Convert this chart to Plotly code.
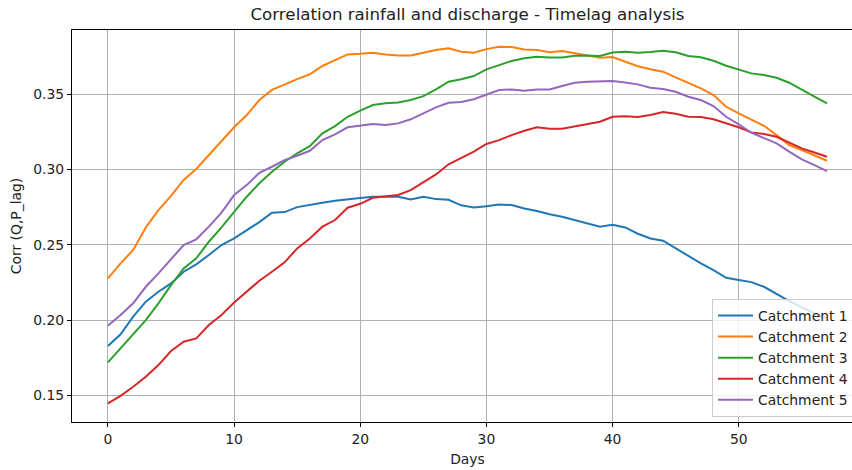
import plotly.graph_objects as go

days = list(range(58))

catchment_1 = [0.1827, 0.1905, 0.2022, 0.2122, 0.2188, 0.2243, 0.2321, 0.2370, 0.2432, 0.2498,
               0.2542, 0.2598, 0.2650, 0.2713, 0.2717, 0.2750, 0.2762, 0.2779, 0.2792, 0.2799,
               0.2810, 0.2819, 0.2819, 0.2819, 0.2801, 0.2819, 0.2803, 0.2799, 0.2762, 0.2748,
               0.2755, 0.2768, 0.2764, 0.2741, 0.2724, 0.2702, 0.2686, 0.2664, 0.2637, 0.2620,
               0.2632, 0.2615, 0.2573, 0.2542, 0.2527, 0.2476, 0.2425, 0.2376, 0.2332, 0.2281,
               0.2266, 0.2252, 0.2221, 0.2173, 0.2126, 0.2084, 0.2044, 0.2010]

catchment_2 = [0.2277, 0.2376, 0.2465, 0.2615, 0.2730, 0.2825, 0.2930, 0.3003, 0.3096, 0.3191,
               0.3280, 0.3361, 0.3461, 0.3528, 0.3565, 0.3600, 0.3632, 0.3687, 0.3726, 0.3764,
               0.3768, 0.3775, 0.3764, 0.3757, 0.3757, 0.3775, 0.3793, 0.3804, 0.3782, 0.3775,
               0.3799, 0.3815, 0.3813, 0.3797, 0.3793, 0.3778, 0.3786, 0.3771, 0.3755, 0.3742,
               0.3746, 0.3717, 0.3685, 0.3665, 0.3649, 0.3611, 0.3576, 0.3538, 0.3494, 0.3416,
               0.3372, 0.3333, 0.3290, 0.3228, 0.3162, 0.3129, 0.3096, 0.3058]

catchment_3 = [0.1719, 0.1812, 0.1900, 0.2000, 0.2111, 0.2232, 0.2343, 0.2410, 0.2520, 0.2615,
               0.2719, 0.2819, 0.2908, 0.2985, 0.3051, 0.3107, 0.3155, 0.3240, 0.3288, 0.3350,
               0.3390, 0.3428, 0.3439, 0.3445, 0.3461, 0.3487, 0.3532, 0.3583, 0.3599, 0.3620,
               0.3665, 0.3693, 0.3720, 0.3738, 0.3749, 0.3744, 0.3744, 0.3755, 0.3757, 0.3753,
               0.3777, 0.3782, 0.3775, 0.3780, 0.3788, 0.3778, 0.3753, 0.3745, 0.3722, 0.3689,
               0.3665, 0.3638, 0.3627, 0.3609, 0.3576, 0.3527, 0.3483, 0.3439]

catchment_4 = [0.1447, 0.1497, 0.1557, 0.1624, 0.1701, 0.1794, 0.1856, 0.1878, 0.1967, 0.2033,
               0.2117, 0.2188, 0.2261, 0.2321, 0.2383, 0.2476, 0.2542, 0.2620, 0.2664, 0.2746,
               0.2772, 0.2812, 0.2823, 0.2830, 0.2863, 0.2918, 0.2967, 0.3034, 0.3074, 0.3118,
               0.3169, 0.3195, 0.3228, 0.3257, 0.3280, 0.3270, 0.3270, 0.3284, 0.3301, 0.3317,
               0.3350, 0.3353, 0.3349, 0.3361, 0.3381, 0.3370, 0.3350, 0.3348, 0.3333, 0.3306,
               0.3280, 0.3246, 0.3235, 0.3217, 0.3177, 0.3140, 0.3113, 0.3084]

catchment_5 = [0.1962, 0.2033, 0.2111, 0.2221, 0.2310, 0.2403, 0.2498, 0.2536, 0.2620, 0.2713,
               0.2830, 0.2896, 0.2978, 0.3018, 0.3062, 0.3091, 0.3124, 0.3195, 0.3233, 0.3280,
               0.3292, 0.3301, 0.3295, 0.3306, 0.3333, 0.3372, 0.3412, 0.3443, 0.3448, 0.3466,
               0.3494, 0.3527, 0.3531, 0.3523, 0.3531, 0.3531, 0.3554, 0.3576, 0.3583, 0.3585,
               0.3587, 0.3578, 0.3565, 0.3543, 0.3534, 0.3516, 0.3483, 0.3461, 0.3421, 0.3350,
               0.3300, 0.3244, 0.3206, 0.3173, 0.3118, 0.3067, 0.3029, 0.2989]

series = [
    ("Catchment 1", catchment_1, "#1f77b4"),
    ("Catchment 2", catchment_2, "#ff7f0e"),
    ("Catchment 3", catchment_3, "#2ca02c"),
    ("Catchment 4", catchment_4, "#d62728"),
    ("Catchment 5", catchment_5, "#9467bd"),
]

x_ticks = [0, 10, 20, 30, 40, 50]
y_ticks = [0.15, 0.20, 0.25, 0.30, 0.35]
y_tick_labels = ["0.15", "0.20", "0.25", "0.30", "0.35"]

FONT = "DejaVu Sans"
FIG_W = 863  # matplotlib figure is wider; the browser window crops it at 852

fig = go.Figure()
for name, vals, color in series:
    fig.add_trace(go.Scatter(x=days, y=vals, mode="lines", name=name,
                             line=dict(color=color, width=2)))

fig.update_layout(
    width=FIG_W, height=470,
    margin=dict(l=72, r=0, t=30, b=48, autoexpand=False),
    paper_bgcolor="white", plot_bgcolor="white",
    font=dict(family=FONT, size=13.9, color="#222222"),
    title=dict(text="Correlation rainfall and discharge - Timelag analysis",
               x=467.5 / FIG_W, xref="container", xanchor="center",
               y=1 - 14 / 470, yref="container", yanchor="middle",
               font=dict(family=FONT, size=16.7, color="#222222")),
    showlegend=True,
    legend=dict(x=(712 - 72) / (FIG_W - 72), xanchor="left", y=(422 - 417) / 392, yanchor="bottom",
                bgcolor="rgba(255,255,255,0.8)", bordercolor="#cccccc", borderwidth=1,
                font=dict(family=FONT, size=13.9, color="#222222"),
                tracegroupgap=0, itemwidth=35),
    xaxis=dict(range=[-2.85, 59.85], tickvals=x_ticks, showgrid=True, gridcolor="#b0b0b0",
               gridwidth=1, zeroline=False, showline=True, linecolor="black", linewidth=1,
               mirror=True, ticks="outside", ticklen=4, tickcolor="black", automargin=False,
               tickfont=dict(family=FONT, size=13.9),
               title=dict(text="Days", font=dict(family=FONT, size=13.9), standoff=8)),
    yaxis=dict(range=[0.1323, 0.3926], tickvals=y_ticks, ticktext=y_tick_labels,
               showgrid=True, gridcolor="#b0b0b0", gridwidth=1, zeroline=False,
               showline=True, linecolor="black", linewidth=1, mirror=True, automargin=False,
               ticks="outside", ticklen=4, tickcolor="black",
               tickfont=dict(family=FONT, size=13.9),
               title=dict(text="Corr (Q,P_lag)", font=dict(family=FONT, size=13.9), standoff=8)),
)

fig.write_html("out.html", config={"displayModeBar": False},
               post_script="document.body.style.margin='0';document.body.style.overflow='hidden';")
